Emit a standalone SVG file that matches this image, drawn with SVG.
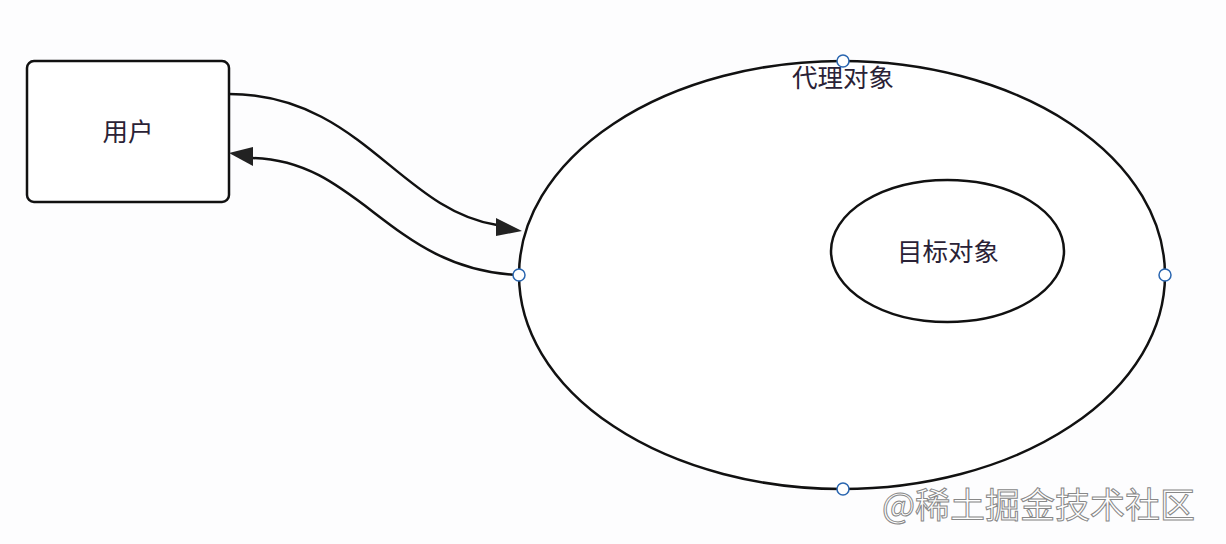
<svg xmlns="http://www.w3.org/2000/svg" width="1226" height="544" viewBox="0 0 1226 544">
<defs>
<style>
.shape{fill:#fff;stroke:#111;stroke-width:2.5}
.conn{fill:none;stroke:#111;stroke-width:2.5}
.pt{fill:#fff;stroke:#2a66b0;stroke-width:1.5}
.lbl{font-family:"Noto Sans CJK SC","Noto Sans",sans-serif;font-size:25.5px;fill:#2a2236;text-anchor:middle}
.wm{font-family:"Noto Sans CJK SC","Noto Sans",sans-serif;font-size:35px;fill:#fff;stroke:#888;stroke-width:1;text-anchor:start}
</style>
</defs>
<rect width="1226" height="544" fill="#fdfdfe"/>
<g id="user">
<rect class="shape" x="27" y="61" width="202" height="141" rx="7"/>
<text class="lbl" x="128" y="141">用户</text>
</g>
<g id="proxy">
<ellipse class="shape" cx="842" cy="275" rx="323" ry="214"/>
<text class="lbl" x="843" y="87">代理对象</text>
</g>
<g id="target">
<ellipse class="shape" cx="947.5" cy="251" rx="116.5" ry="71"/>
<text class="lbl" x="948" y="261">目标对象</text>
</g>
<g id="connectors">
<path class="conn" d="M229,94 C360,94 400,210 497,225" />
<path d="M496,218 L522,231 L496,236 z" fill="#222"/>
<path class="conn" d="M519,275 C390,270 360,160 252,158" />
<path d="M229,153 L253,147 L253,166 z" fill="#222"/>
</g>
<g id="handles">
<circle class="pt" cx="843" cy="61" r="6"/>
<circle class="pt" cx="519" cy="275" r="6"/>
<circle class="pt" cx="1165" cy="275" r="6"/>
<circle class="pt" cx="843" cy="489" r="6"/>
</g>
<text class="wm" x="882" y="518">@稀土掘金技术社区</text>
</svg>
